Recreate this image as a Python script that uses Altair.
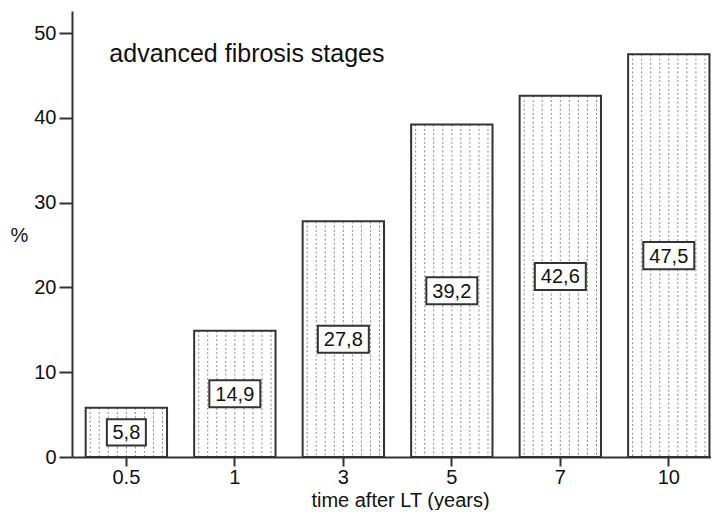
import altair as alt
import pandas as pd

categories = ["0.5", "1", "3", "5", "7", "10"]
values = [5.8, 14.9, 27.8, 39.2, 42.6, 47.5]
labels = ["5,8", "14,9", "27,8", "39,2", "42,6", "47,5"]
y_ticks = [0, 10, 20, 30, 40, 50]
annotation = "advanced fibrosis stages"
n_stripes = 9

df = pd.DataFrame({"time": categories, "pct": values, "label": labels})
df["half"] = df["pct"] / 2
df["nchar"] = df["label"].str.len()
df["base"] = 0.0

stripes = pd.DataFrame(
    [{"time": c, "pct": v, "base": 0.0, "k": k}
     for c, v in zip(categories, values) for k in range(n_stripes)]
)

FONT = "Liberation Sans"
DARK = "#333333"

x_scale = alt.Scale(domain=categories, paddingInner=0.25, paddingOuter=0.07, align=0.9)
y_scale = alt.Scale(domain=[0, 52.6], nice=False)

x_enc = alt.X(
    "time:N", scale=x_scale, sort=categories,
    axis=alt.Axis(title="time after LT (years)", labelAngle=0, labelPadding=1,
                  tickSize=9, titleX=328, titleY=49, titleAlign="center",
                  titleBaseline="alphabetic", titleFontSize=20),
)
y_enc = alt.Y(
    "pct:Q", scale=y_scale,
    axis=alt.Axis(title="%", values=y_ticks, titleAngle=0, titleX=-53, titleY=224,
                  titleAlign="center", titleBaseline="middle", labelPadding=3,
                  tickSize=13),
)

bars_fill = alt.Chart(df).mark_bar(fill="white", strokeWidth=0).encode(x=x_enc, y=y_enc)

stripes_layer = alt.Chart(stripes).mark_rule(
    color="#888888", strokeWidth=1, strokeDash=[2, 2.3]
).encode(
    x=alt.X("time:N", sort=categories),
    xOffset=alt.XOffset("k:O", scale=alt.Scale(paddingInner=0, paddingOuter=0)),
    y=alt.Y("pct:Q"),
    y2=alt.Y2("base:Q"),
)

bars_outline = alt.Chart(df).mark_bar(
    fillOpacity=0, stroke=DARK, strokeWidth=2
).encode(x=alt.X("time:N", sort=categories), y=alt.Y("pct:Q"))

box3 = alt.Chart(df).transform_filter("datum.nchar == 3").mark_point(
    shape="M-1,-0.67L1,-0.67L1,0.67L-1,0.67Z", size=39 * 39, filled=True,
    fill="white", stroke=DARK, strokeWidth=2, opacity=1, fillOpacity=1,
).encode(x=alt.X("time:N", sort=categories), y=alt.Y("half:Q"))

box4 = alt.Chart(df).transform_filter("datum.nchar == 4").mark_point(
    shape="M-1,-0.53L1,-0.53L1,0.53L-1,0.53Z", size=51 * 51, filled=True,
    fill="white", stroke=DARK, strokeWidth=2, opacity=1, fillOpacity=1,
).encode(x=alt.X("time:N", sort=categories), y=alt.Y("half:Q"))

texts = alt.Chart(df).mark_text(
    font=FONT, fontSize=20, baseline="middle", align="center", color="#111", dy=1
).encode(x=alt.X("time:N", sort=categories), y=alt.Y("half:Q"), text="label:N")

ann_df = pd.DataFrame({"time": [categories[0]], "y": [46.6], "text": [annotation]})
ann = alt.Chart(ann_df).mark_text(
    font=FONT, fontSize=25, align="left", baseline="alphabetic", dx=-17, color="#111"
).encode(x=alt.X("time:N", sort=categories), y=alt.Y("y:Q"), text="text:N")

chart = alt.layer(bars_fill, stripes_layer, bars_outline, box3, box4, texts, ann).properties(
    width=639, height=446,
    autosize=alt.AutoSizeParams(type="none"),
    padding={"left": 64, "top": 3, "right": 0, "bottom": 53},
).configure_view(stroke=None).configure_axis(
    grid=False, domainColor=DARK, domainWidth=2, tickColor=DARK, tickWidth=2,
    labelFont=FONT, labelFontSize=20, labelColor="#111",
    titleFont=FONT, titleFontSize=20, titleFontWeight="normal", titleColor="#111",
)

chart.save("out.html", embed_options={"renderer": "svg", "actions": False})
